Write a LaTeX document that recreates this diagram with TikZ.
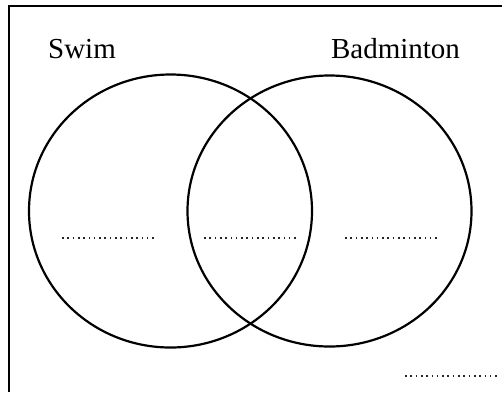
\documentclass[tikz,border=0pt]{standalone}
\usepackage{fontspec}
\setmainfont{Liberation Serif}
\usetikzlibrary{shapes.geometric}
\begin{document}
\begin{tikzpicture}[x=1pt,y=-1pt,
  setcircle/.style={draw=black,line width=2.2pt},
  blank/.style={line width=1.8pt,dash pattern=on 1.6pt off 3.7pt,draw=black!85},
  setlabel/.style={font=\fontsize{29}{32}\selectfont,anchor=base,inner sep=0pt}]
\useasboundingbox (0,0) rectangle (502,392);
\draw[line width=2.6pt] (9,392) -- (9,6) -- (502,6);
\node[setcircle,ellipse,minimum width=283pt,minimum height=273pt,inner sep=0pt] (swim) at (170.5,211) {};
\node[setcircle,ellipse,minimum width=284pt,minimum height=271pt,inner sep=0pt] (bad) at (329.5,211) {};
\node[setlabel] (swimlabel) at (82,58) {Swim};
\node[setlabel] (badlabel) at (395.5,58) {Badminton};
\coordinate (a1) at (62,238); \coordinate (a2) at (154,238);
\coordinate (b1) at (204,238); \coordinate (b2) at (297,238);
\coordinate (c1) at (345,238); \coordinate (c2) at (438,238);
\coordinate (d1) at (405,376); \coordinate (d2) at (498,376);
\draw[blank] (a1) -- (a2);
\draw[blank] (b1) -- (b2);
\draw[blank] (c1) -- (c2);
\draw[blank] (d1) -- (d2);
\end{tikzpicture}
\end{document}
